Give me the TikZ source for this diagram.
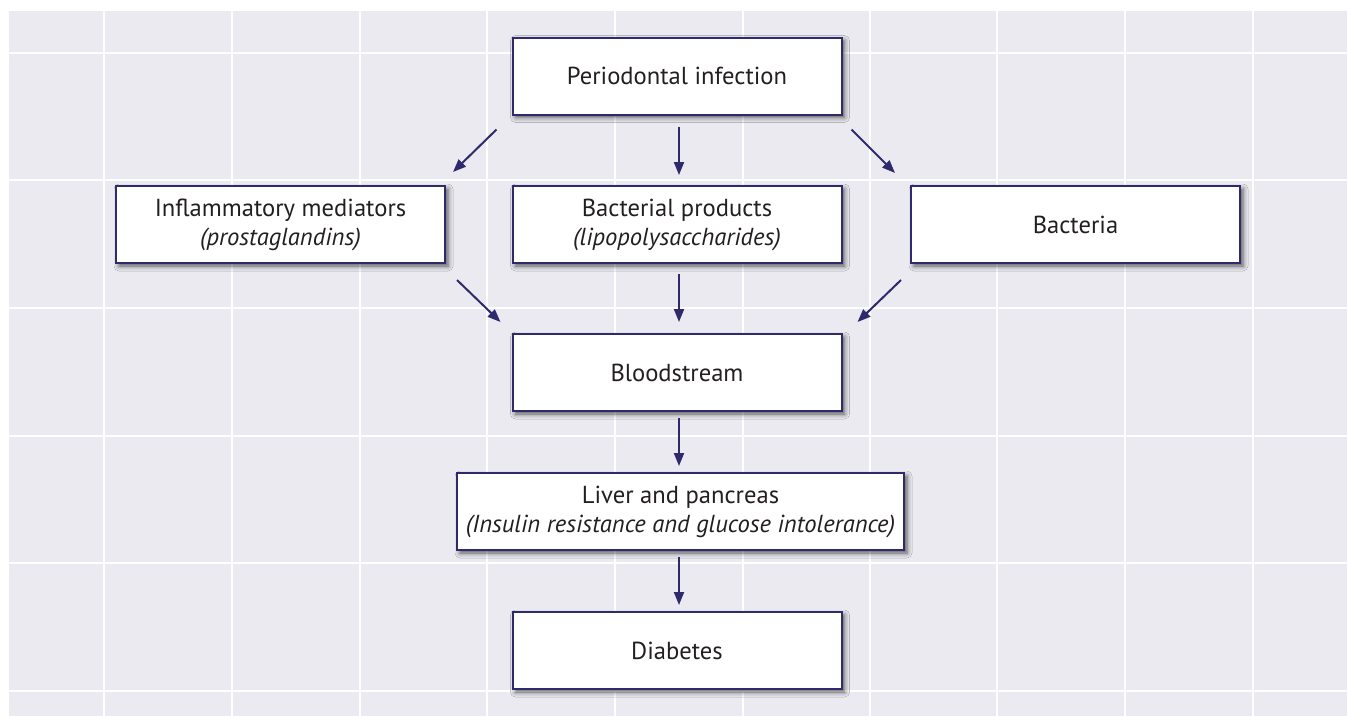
\documentclass[tikz,border=0pt]{standalone}
\usepackage{fontspec}
\setmainfont{PT Sans}
\usetikzlibrary{arrows.meta,calc,shadows.blur}
\definecolor{bgc}{RGB}{235,234,241}
\definecolor{navy}{RGB}{46,42,107}
\definecolor{txt}{RGB}{35,31,32}
\begin{document}
\begin{tikzpicture}[x=1pt,y=-1pt,
  box/.style={draw=navy,line width=2pt,fill=white,minimum height=77pt,
    inner sep=0pt,align=center,text=txt,
    font=\fontsize{24.6}{29}\selectfont,
    blur shadow={shadow xshift=3pt,shadow yshift=-3pt,shadow blur radius=5pt,shadow opacity=65}},
  wbox/.style={box,minimum width=329pt},
  arr/.style={draw=navy,line width=2pt,-{Triangle[length=13pt,width=10pt]}}]
\useasboundingbox (0,0) rectangle (1347,716);
\fill[bgc] (9,11) rectangle (1347,716);
\foreach \gx in {104,232,360,487,615,743,870,997,1125,1253}
  \draw[white,line width=2.5pt] (\gx,11) -- (\gx,716);
\foreach \gy in {53,180,308,436,563,691}
  \draw[white,line width=2.5pt] (9,\gy) -- (1347,\gy);
\node[wbox] (peri) at (677,76) {Periodontal infection};
\node[wbox] (infl) at (280.5,224.5) {Inflammatory mediators\\\textit{(prostaglandins)}};
\node[wbox] (prod) at (677,224.5) {Bacterial products\\\textit{(lipopolysaccharides)}};
\node[wbox] (bact) at (1075.5,224.5) {Bacteria};
\node[wbox] (blood) at (677,372.5) {Bloodstream};
\node[box,minimum width=447pt] (liver) at (680.5,511.5) {Liver and pancreas\\\textit{(Insulin resistance and glucose intolerance)}};
\node[wbox] (diab) at (677,650.5) {Diabetes};
\draw[arr] ($(peri.south)+(2,11)$) -- ($(prod.north)+(2,-10)$);
\draw[arr] ($(peri.south west)+(-15,14)$) -- ($(infl.north east)+(7,-13)$);
\draw[arr] ($(peri.south east)+(9,14)$) -- ($(bact.north west)+(-15,-12)$);
\draw[arr] ($(infl.south east)+(11,16)$) -- ($(blood.north west)+(-11,-11)$);
\draw[arr] ($(bact.south west)+(-9,16)$) -- ($(blood.north east)+(15,-11)$);
\draw[arr] ($(prod.south)+(2,10)$) -- ($(blood.north)+(2,-11)$);
\draw[arr] ($(blood.south)+(2,6)$) -- ($(liver.north)+(-1.5,-6)$);
\draw[arr] ($(liver.south)+(-1.5,6)$) -- ($(diab.north)+(2,-6)$);
\end{tikzpicture}
\end{document}
